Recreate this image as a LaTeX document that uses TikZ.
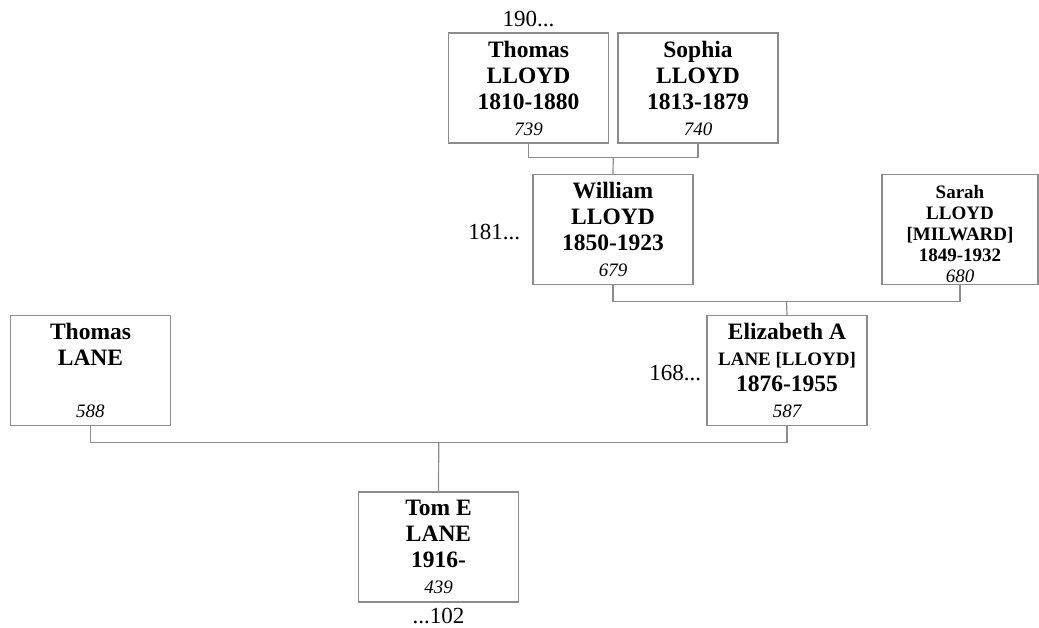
\documentclass[tikz,border=0pt]{standalone}
\usepackage{fontspec}
\setmainfont{Liberation Serif}
\usepackage{tikz}
\usetikzlibrary{
    positioning,
    calc
}
\definecolor{boxgray}{RGB}{140,140,140}
\tikzset{
    person/.style={
        draw=boxgray,
        line width=1.2pt,
        minimum width=160pt,
        minimum height=110pt,
        inner sep=0pt,
        align=center,
        font=\fontsize{23.5}{26}\selectfont\bfseries
    },
    small person/.style={
        person,
        minimum width=156pt,
        font=\fontsize{19}{21}\selectfont\bfseries
    },
    tag/.style={
        inner sep=0pt,
        font=\fontsize{23}{26}\selectfont
    },
    link/.style={
        draw=boxgray,
        line width=1.2pt
    }
}
\newcommand{\refno}[1]{{\fontsize{19}{26}\selectfont\mdseries\itshape #1}}

\begin{document}
\begin{tikzpicture}[
    x=1pt,
    y=-1pt
]

    \useasboundingbox (0,0) rectangle (1039,627);

    % Personas
    \node[person] (thomasl)  at (528.5,88)  {Thomas\\LLOYD\\1810-1880\\\refno{739}};
    \node[person] (sophia)   at (698,88)    {Sophia\\LLOYD\\1813-1879\\\refno{740}};
    \node[person] (william)  at (613,229.5) {William\\LLOYD\\1850-1923\\\refno{679}};
    \node[small person] (sarah) at (960,229.5) {\rule{0pt}{22pt}Sarah\\LLOYD\\{[MILWARD]}\\1849-1932\\\refno{680}};
    \node[person] (thomasla) at (90.5,370.5) {Thomas\\LANE\\~\\\refno{588}};
    \node[person] (eliz)     at (787,370.5) {Elizabeth A\\{\fontsize{19}{26}\selectfont LANE [LLOYD]}\\1876-1955\\\refno{587}};
    \node[person] (tom)      at (438.5,547) {Tom E\\LANE\\1916-\\\refno{439}};

    % Referencias
    \node[tag, above=5pt of thomasl] (t190) {190...};
    \node[tag, left=12pt of william, yshift=-3pt] (t181) {181...};
    \node[tag, left=5pt of eliz, yshift=-3pt] (t168) {168...};
    \node[tag, below=5pt of tom] (t102) {...102};

    % Uniones
    \draw[link] (thomasl.south) -- ++(0,14) -| (sophia.south);
    \coordinate (u1) at ($(thomasl.south)!.5!(sophia.south)+(0,14)$);
    \draw[link] (u1) -- (william.north);

    \draw[link] (william.south) -- ++(0,16) -| (sarah.south);
    \coordinate (u2) at ($(william.south)!.5!(sarah.south)+(0,16)$);
    \draw[link] (u2) -- (eliz.north);

    \draw[link] (thomasla.south) -- ++(0,16) -| (eliz.south);
    \coordinate (u3) at ($(thomasla.south)!.5!(eliz.south)+(0,16)$);
    \draw[link] (u3) -- (tom.north);

\end{tikzpicture}
\end{document}
